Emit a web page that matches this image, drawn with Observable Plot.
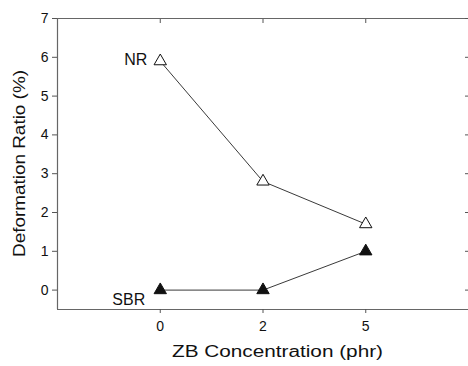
<!DOCTYPE html>
<html>
<head>
<meta charset="utf-8">
<script src="https://cdn.jsdelivr.net/npm/d3@7"></script>
<script src="https://cdn.jsdelivr.net/npm/@observablehq/plot@0.6"></script>
<style>
  html, body { margin: 0; padding: 0; background: #fff; }
  svg { display: block; }
</style>
</head>
<body>
<div id="chart"></div>
<script>
// Data
const concentrations = ["0", "2", "5"];           // x categories (phr), evenly spaced
const nrValues = [5.9, 2.8, 1.7];                 // NR deformation ratio (%)
const sbrValues = [0.0, 0.0, 1.0];                // SBR deformation ratio (%)
const seriesNames = ["NR", "SBR"];
const yTicks = [0, 1, 2, 3, 4, 5, 6, 7];
const xTitle = "ZB Concentration (phr)";
const yTitle = "Deformation Ratio (%)";

const rows = [];
concentrations.forEach((c, i) => {
  rows.push({series: "NR", i, c, v: nrValues[i]});
  rows.push({series: "SBR", i, c, v: sbrValues[i]});
});
const nr = rows.filter(d => d.series === "NR");
const sbr = rows.filter(d => d.series === "SBR");

const xDomain = [-1, 3];
const yDomain = [-0.5, 7];
const font = "'Liberation Sans', Arial, Helvetica, sans-serif";

const chart = Plot.plot({
  width: 468,
  height: 366,
  marginLeft: 57,
  marginRight: 0,
  marginTop: 18,
  marginBottom: 57,
  style: {fontFamily: font, fontSize: "14px", color: "#111", background: "#fff"},
  x: {type: "linear", domain: xDomain},
  y: {domain: yDomain},
  marks: [
    // open-right frame (left, top, bottom sides)
    Plot.ruleY(yDomain, {stroke: "#666", strokeWidth: 1.2}),
    Plot.ruleX([xDomain[0]], {stroke: "#666", strokeWidth: 1.2}),
    // left axis
    Plot.axisY({anchor: "left", ticks: yTicks, tickSize: 5, tickPadding: 4, fontSize: 14, label: null, stroke: "#555"}),
    // right axis (inward ticks, no labels)
    Plot.axisY({anchor: "right", ticks: yTicks, tickSize: -4, tickFormat: () => "", label: null, stroke: "#555"}),
    // bottom axis
    Plot.axisX({anchor: "bottom", ticks: d3.range(concentrations.length), tickFormat: i => concentrations[i], tickSize: 4, tickPadding: 8, fontSize: 14, label: null, stroke: "#555"}),
    // top axis (inward ticks)
    Plot.axisX({anchor: "top", ticks: d3.range(concentrations.length), tickSize: -4, tickFormat: () => "", label: null, stroke: "#555"}),
    // series lines
    Plot.line(nr, {x: "i", y: "v", stroke: "#222", strokeWidth: 0.9}),
    Plot.line(sbr, {x: "i", y: "v", stroke: "#222", strokeWidth: 0.9}),
    // markers
    Plot.dot(nr, {x: "i", y: "v", symbol: "triangle", r: 4.6, fill: "white", stroke: "#111", strokeWidth: 1}),
    Plot.dot(sbr, {x: "i", y: "v", symbol: "triangle", r: 4.6, fill: "#111", stroke: "#111", strokeWidth: 1}),
    // series labels
    Plot.text([nr[0]], {x: "i", y: "v", text: () => seriesNames[0], textAnchor: "end", dx: -13, dy: -1, fontSize: 16}),
    Plot.text([sbr[0]], {x: "i", y: "v", text: () => seriesNames[1], textAnchor: "end", dx: -15, dy: 10, fontSize: 16}),
    // axis titles
    Plot.text([xTitle], {frameAnchor: "bottom", textAnchor: "start", dy: 47, dx: -91, fontSize: 16}),
    Plot.text([yTitle], {frameAnchor: "left", textAnchor: "start", rotate: -90, dx: -38, dy: 93, fontSize: 16})
  ]
});

document.getElementById("chart").appendChild(chart);

// stretch axis titles to the reference's lengths
d3.select(chart).selectAll("text").each(function() {
  const t = this.textContent;
  if (t === xTitle) { this.setAttribute("textLength", 211); this.setAttribute("lengthAdjust", "spacingAndGlyphs"); }
  if (t === yTitle) { this.setAttribute("textLength", 187); this.setAttribute("lengthAdjust", "spacingAndGlyphs"); }
});
</script>
</body>
</html>
